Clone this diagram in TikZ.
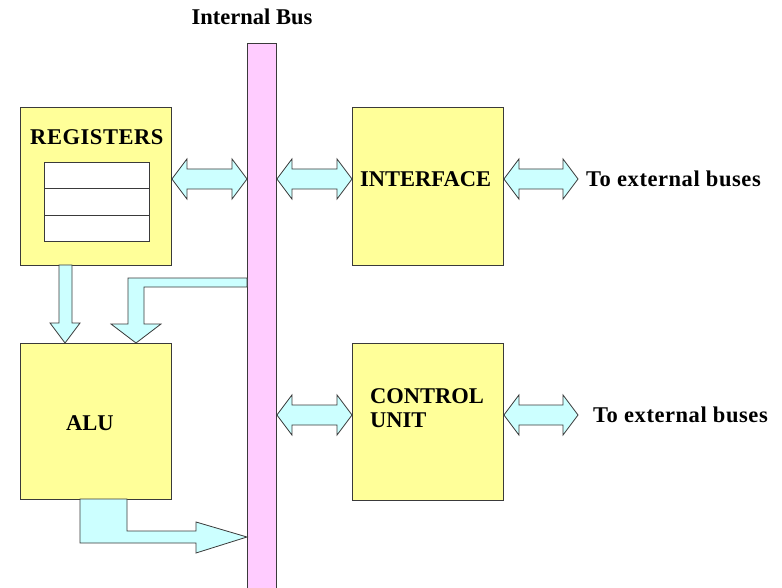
\documentclass[tikz,border=0pt]{standalone}
\usepackage{fontspec}
\setmainfont{Liberation Serif}
\usetikzlibrary{calc}

\definecolor{boxyellow}{HTML}{FFFF99}
\definecolor{flowcyan}{HTML}{CCFFFF}
\definecolor{buspink}{HTML}{FFCCFF}
\definecolor{edge}{HTML}{3A3A3A}

% horizontal two-headed block arrow between two tip points
\newcommand\hdbl[2]{%
  \draw[flow] let \p1=(#1), \p2=(#2) in
    (\p1) -- ++(15pt,20pt) -- ++(0,-10pt) -- (\x2-15pt,\y1+10pt) -- ++(0,10pt)
    -- (\p2) -- ++(-15pt,-20pt) -- ++(0,10pt) -- (\x1+15pt,\y1-10pt)
    -- ++(0,-10pt) -- cycle;}

\begin{document}
\begin{tikzpicture}[x=1pt,y=-1pt,
  unitbox/.style={draw=edge,line width=0.9pt,fill=boxyellow,inner sep=0pt,anchor=north west},
  flow/.style={draw=edge,line width=0.8pt,fill=flowcyan,line join=miter},
  lbl/.style={font=\bfseries\fontsize{22.5}{24}\selectfont,inner sep=0pt},
  wide/.style={font=\bfseries\fontsize{22.5}{24}\selectfont\addfontfeature{LetterSpace=2.5}}]
\useasboundingbox (0,0) rectangle (782,588);

% internal bus
\node[draw=edge,line width=0.9pt,fill=buspink,inner sep=0pt,anchor=north west,
      minimum width=29pt,minimum height=550pt] (bus) at (247,43) {};
\node[lbl,anchor=base] (buslbl) at (252,25) {Internal Bus};

% functional units
\node[unitbox,minimum width=151pt,minimum height=158pt] (reg) at (20,107) {};
\node[unitbox,minimum width=151pt,minimum height=156pt] (alu) at (20,343) {};
\node[unitbox,minimum width=151pt,minimum height=158pt] (iface) at (352,107) {};
\node[unitbox,minimum width=151pt,minimum height=157pt] (cu) at (352,343) {};

% register file inside the register block
\node[draw=edge,line width=0.9pt,fill=white,inner sep=0pt,anchor=north west,
      minimum width=105pt,minimum height=79pt] (regfile) at (44,162) {};
\draw[edge,line width=0.9pt] (44,188) -- (149,188) (44,215) -- (149,215);

% labels
\node[lbl,wide,anchor=base west] (reglbl) at (30,145) {REGISTERS};
\node[lbl,anchor=base west] (alulbl) at (66,430) {ALU};
\node[lbl,anchor=base west] (iflbl) at (360,187) {INTERFACE};
\node[lbl,anchor=north west,align=left] (culbl) at (370,388) {CONTROL\\UNIT};
\node[lbl,wide,anchor=base west] (ext1) at (586,187) {To external buses};
\node[lbl,wide,anchor=base west] (ext2) at (593,422) {To external buses};

% tips of the two-headed arrows
\coordinate (a1) at (reg.east |- 0,179);
\coordinate (a2) at (bus.west |- 0,179);
\coordinate (b1) at (bus.east |- 0,179);
\coordinate (b2) at (iface.west |- 0,179);
\coordinate (c1) at (iface.east |- 0,179);
\coordinate (c2) at ([xshift=-8pt]ext1.west |- 0,179);
\coordinate (d1) at (bus.east |- 0,415);
\coordinate (d2) at (cu.west |- 0,415);
\coordinate (e1) at (cu.east |- 0,415);
\coordinate (e2) at ([xshift=-15pt]ext2.west |- 0,415);

\hdbl{a1}{a2}
\hdbl{b1}{b2}
\hdbl{c1}{c2}
\hdbl{d1}{d2}
\hdbl{e1}{e2}

% registers -> ALU
\draw[flow] (59,265) -- (59,323) -- (50,323) -- (65,343) -- (80,323)
  -- (72,323) -- (72,265) -- cycle;

% bus -> ALU
\draw[flow] (247,278) -- (128,278) -- (128,324) -- (111,324) -- (136,343)
  -- (161,324) -- (144,324) -- (144,287) -- (247,287) -- cycle;

% ALU -> bus
\draw[flow] (80,499) -- (80,543) -- (196,543) -- (196,553) -- (247,537)
  -- (196,522) -- (196,531) -- (127,531) -- (127,499) -- cycle;
\end{tikzpicture}
\end{document}
